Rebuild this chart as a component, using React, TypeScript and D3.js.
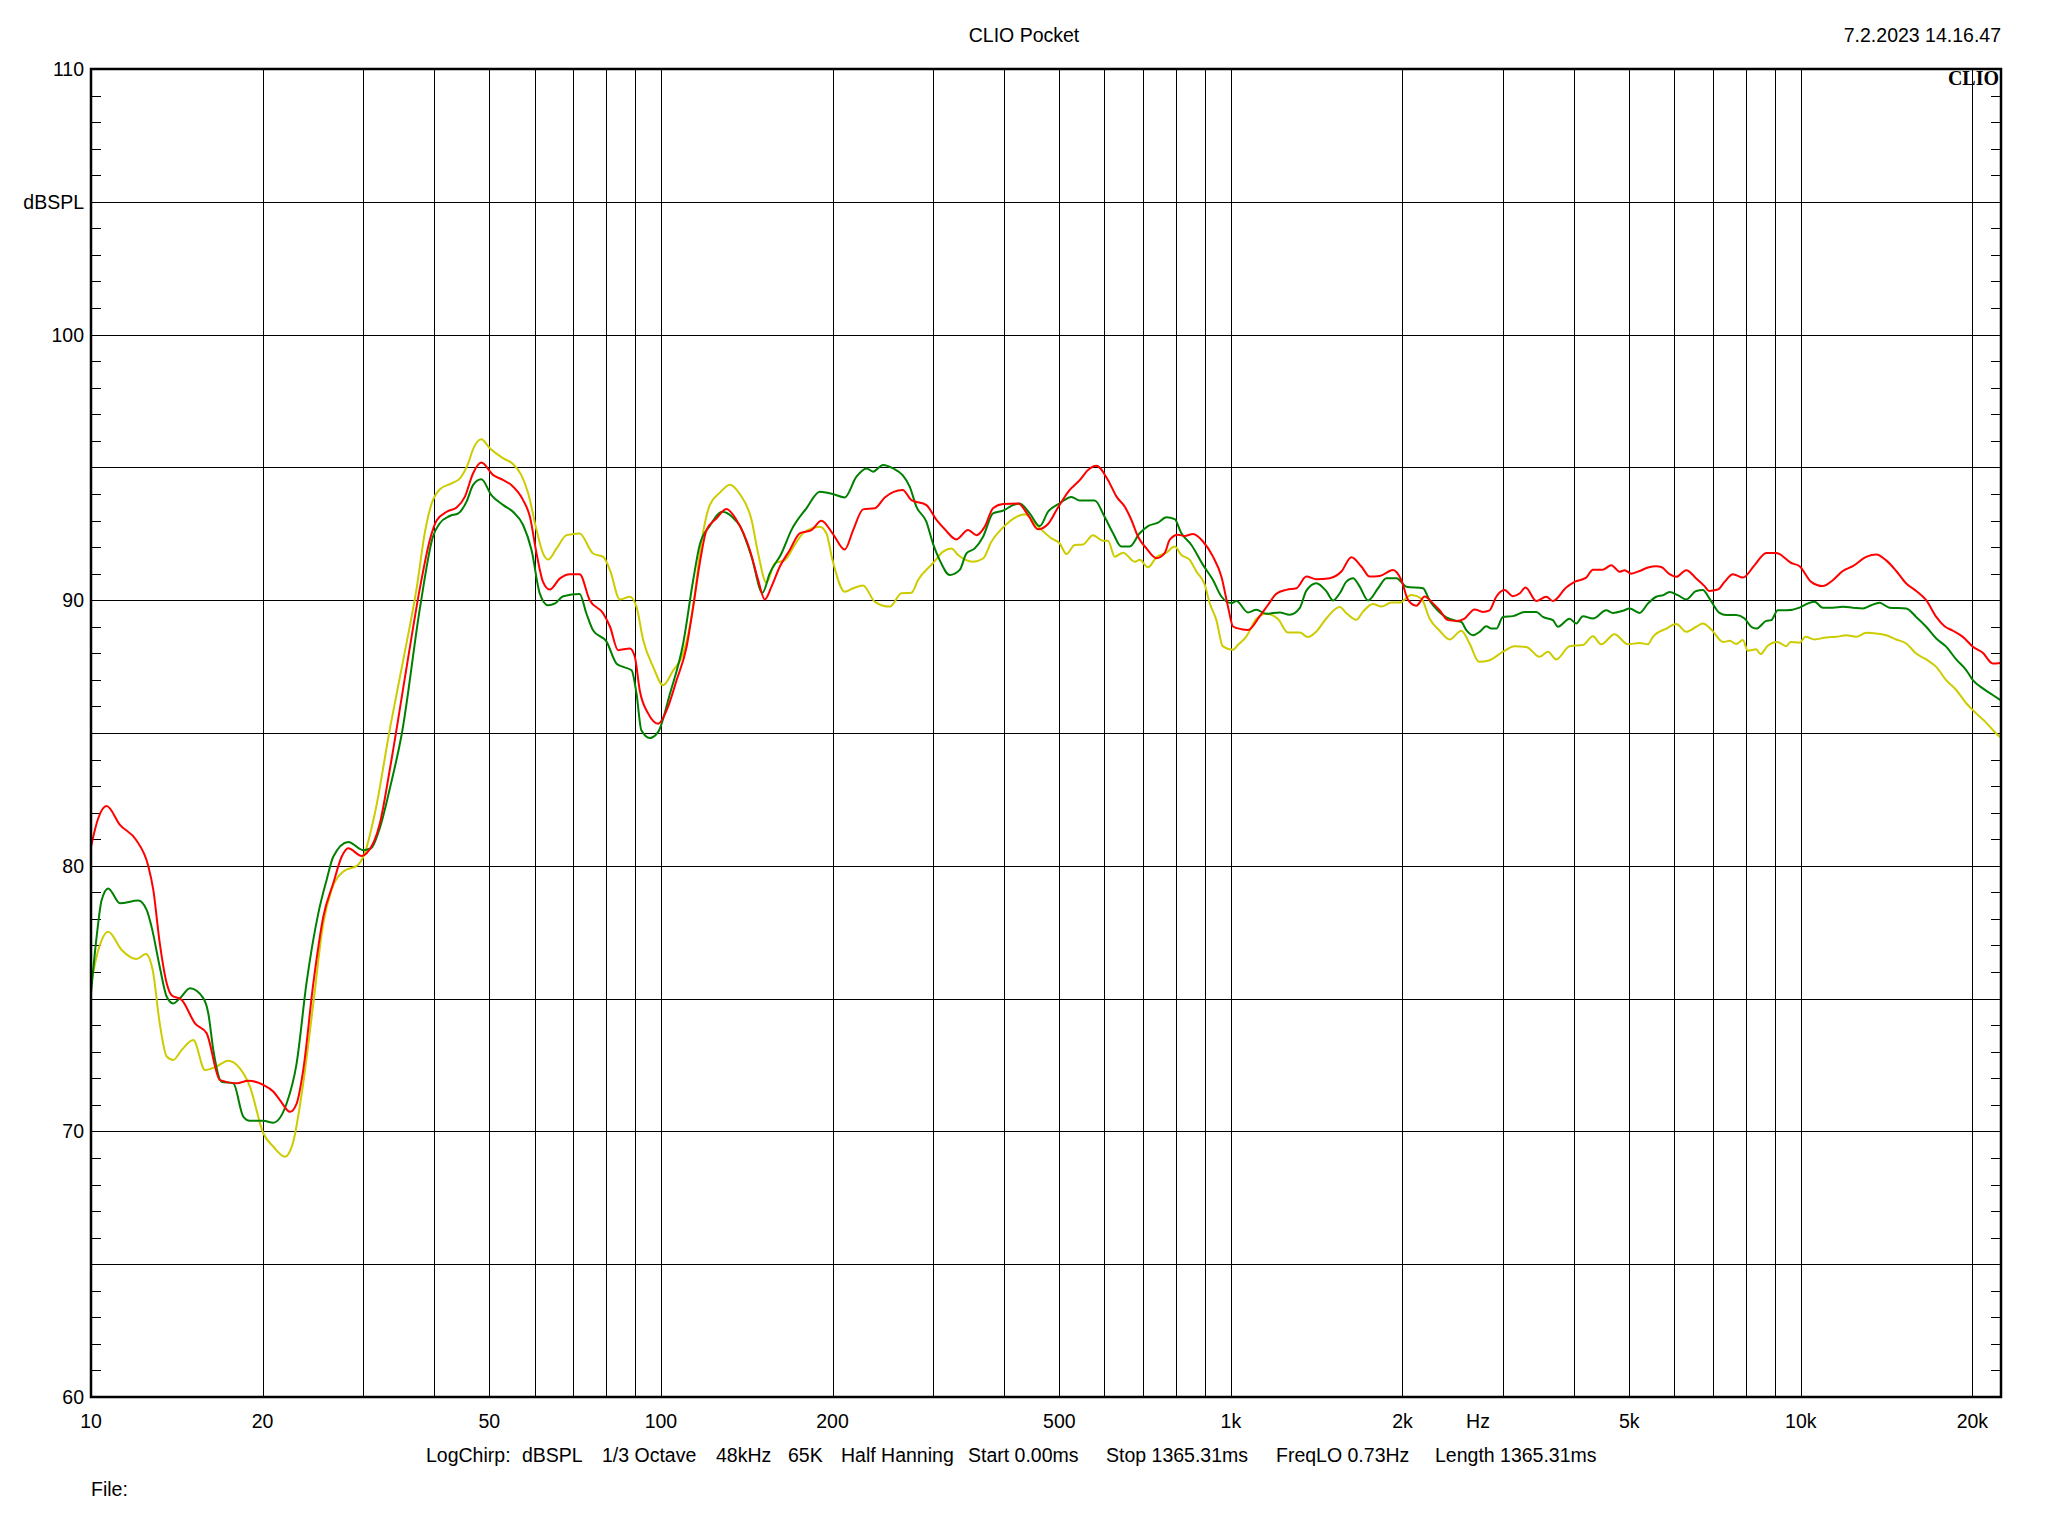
import React from "react";
import * as d3 from "d3";

// ---------- data (frequency Hz, level dBSPL) ----------
const redCurve: [number, number][] = [
  [10, 80.72], [10.3, 81.8], [10.65, 82.25], [11.24, 81.54], [12.0, 80.97], [12.6, 80.0], [12.86, 79.1],
  [13.2, 77.1], [13.58, 75.57], [13.85, 75.13], [14.43, 74.95], [15.22, 74.07], [15.95, 73.7], [16.84, 71.93],
  [18.01, 71.81], [18.88, 71.91], [20.06, 71.75], [20.88, 71.5], [21.45, 71.18], [22.34, 70.74], [22.95, 71.05],
  [23.57, 72.31], [24.55, 75.57], [25.56, 78.08], [26.61, 79.34], [27.53, 80.34], [28.27, 80.66], [29.85, 80.37],
  [30.45, 80.47], [32.13, 81.6], [33.5, 83.72], [35.8, 87.49], [37.8, 90.5], [39.3, 92.26], [40.4, 93.0],
  [42.1, 93.33], [43.8, 93.49], [45.3, 93.9], [46.8, 94.77], [48.4, 95.18], [50.8, 94.71], [52.9, 94.52],
  [54.7, 94.33], [57.3, 93.77], [58.9, 93.14], [60.5, 91.76], [62.1, 90.69], [63.8, 90.4], [66.5, 90.82],
  [69.2, 90.98], [72.0, 90.98], [75.0, 90.0], [79.2, 89.5], [81.4, 89.0], [84.1, 88.12], [88.2, 88.18],
  [90.0, 87.86], [91.8, 86.6], [95.0, 85.73], [98.9, 85.35], [102.3, 85.85], [106.5, 86.98], [110.9, 88.24],
  [113.9, 89.75], [117.0, 91.4], [120.2, 92.64], [125.2, 93.08], [130.3, 93.43], [135.7, 93.02], [143.2, 91.89],
  [148.1, 90.76], [152.1, 90.03], [156.3, 90.51], [161.6, 91.26], [168.3, 91.89], [175.2, 92.52], [183.7, 92.64],
  [191.2, 92.99], [200, 92.52], [210.1, 91.91], [217.4, 92.64], [226.3, 93.42], [237.3, 93.46], [247.0, 93.87],
  [265.5, 94.15], [275.1, 93.77], [292.3, 93.58], [304.4, 93.02], [314.8, 92.67], [330.0, 92.29], [345.8, 92.64],
  [357.7, 92.45], [370.0, 92.77], [382.5, 93.46], [398.4, 93.62], [423.2, 93.64], [440.7, 93.21], [458.8, 92.67],
  [477.7, 92.87], [497.4, 93.49], [521.5, 94.15], [543.0, 94.52], [561.6, 94.9], [580.8, 95.06], [608.8, 94.52],
  [630.0, 93.9], [651.4, 93.52], [669.1, 93.02], [687.2, 92.39], [710.9, 91.95], [740.2, 91.58], [765.3, 91.77],
  [780.9, 92.27], [807.6, 92.46], [829.6, 92.42], [858.0, 92.49], [893.4, 92.21], [930.2, 91.64], [962.3, 90.89],
  [988.3, 89.76], [1008.6, 89.01], [1043.3, 88.91], [1071.6, 88.88], [1123.1, 89.39], [1161.5, 89.82],
  [1201.7, 90.24], [1251.4, 90.39], [1302.9, 90.45], [1356.7, 90.89], [1412.5, 90.79], [1490.9, 90.83],
  [1562.5, 91.08], [1627.1, 91.62], [1694.1, 91.27], [1752.0, 90.89], [1824.1, 90.91], [1924.5, 91.14],
  [1990.7, 90.76], [2045.6, 90.01], [2115.7, 89.79], [2188.0, 90.14], [2262.5, 89.88], [2324.3, 89.62],
  [2403.4, 89.25], [2486.0, 89.22], [2570.4, 89.31], [2676.6, 89.65], [2768.1, 89.56], [2843.7, 89.62],
  [2921.7, 90.13], [3021.4, 90.38], [3124.6, 90.15], [3210.0, 90.25], [3288.6, 90.48], [3434.0, 89.97],
  [3576.0, 90.13], [3673.0, 89.97], [3876.0, 90.48], [4009.0, 90.69], [4202, 90.85], [4317, 91.15], [4495, 91.15],
  [4650, 91.32], [4809, 91.07], [4906, 91.13], [5040, 91.0], [5212, 91.1], [5391, 91.23], [5576, 91.28],
  [5690, 91.25], [5885, 90.98], [6046, 90.88], [6295, 91.13], [6554, 90.82], [6777, 90.53], [6900, 90.35],
  [7150, 90.4], [7348, 90.69], [7599, 90.98], [7913, 90.85], [8296, 91.32], [8697, 91.78], [9055, 91.78],
  [9620, 91.4], [9948, 91.28], [10427, 90.69], [10929, 90.53], [11378, 90.75], [11848, 91.1], [12335, 91.28],
  [13024, 91.63], [13562, 91.72], [14119, 91.5], [14703, 91.1], [15306, 90.63], [15937, 90.35], [16596, 90.0],
  [17281, 89.37], [17872, 89.02], [18479, 88.85], [19242, 88.62], [20038, 88.25], [20857, 88.02], [21712, 87.62],
  [22400, 87.64],
];

const greenCurve: [number, number][] = [
  [10, 75.2], [10.23, 77.33], [10.44, 78.71], [10.72, 79.15], [11.24, 78.59], [12.1, 78.69], [12.52, 78.34],
  [12.77, 77.71], [13.2, 76.2], [13.58, 75.07], [13.94, 74.82], [14.32, 75.01], [14.92, 75.39], [15.75, 75.01],
  [16.06, 74.45], [16.39, 73.07], [16.95, 71.87], [17.77, 71.81], [18.5, 70.56], [19.0, 70.4], [20.06, 70.4],
  [20.88, 70.33], [22.04, 71.05], [22.95, 72.56], [23.88, 75.57], [25.05, 78.21], [25.9, 79.46], [26.61, 80.34],
  [28.27, 80.9], [30.05, 80.59], [31.0, 80.66], [32.1, 81.41], [33.5, 82.98], [35.1, 84.97], [37.8, 89.75],
  [39.8, 92.39], [40.9, 92.89], [42.6, 93.17], [44.1, 93.27], [45.6, 93.71], [46.8, 94.33], [48.4, 94.55],
  [50.4, 93.96], [52.9, 93.58], [55.0, 93.33], [57.3, 92.83], [59.3, 91.88], [61.3, 90.25], [63.4, 89.81],
  [65.1, 89.87], [67.4, 90.15], [72.0, 90.23], [74.0, 89.5], [76.0, 88.87], [80.3, 88.43], [83.6, 87.61],
  [85.9, 87.49], [88.8, 87.36], [90.6, 86.48], [92.4, 85.1], [95.6, 84.81], [98.9, 85.04], [103.7, 86.48],
  [109.4, 88.37], [113.9, 90.75], [117, 92.1], [121.8, 92.8], [128.2, 93.33], [133.9, 93.1], [137.5, 92.8],
  [144.2, 91.64], [150.7, 90.28], [155.2, 91.01], [162.7, 91.76], [169.4, 92.64], [180.0, 93.46], [190.0, 94.08],
  [200, 94.0], [210.1, 93.87], [220.3, 94.65], [229.5, 94.96], [235.6, 94.84], [245.3, 95.09], [255.5, 94.96],
  [265.5, 94.71], [273.3, 94.27], [280.7, 93.52], [292.3, 92.95], [300, 92.14], [308.4, 91.51], [321.2, 90.95],
  [334.4, 91.14], [343.6, 91.76], [355.3, 91.95], [367.5, 92.39], [382.5, 93.27], [398.4, 93.37], [414.7, 93.58],
  [426.1, 93.64], [443.6, 93.27], [461.9, 92.79], [477.7, 93.33], [500.9, 93.65], [525.1, 93.89], [543.0, 93.75],
  [576.8, 93.75], [600.0, 93.15], [621.3, 92.52], [642.4, 92.02], [664.4, 92.02], [691.8, 92.52], [715.5, 92.79],
  [745.1, 92.92], [770.5, 93.12], [796.8, 93.05], [818.8, 92.52], [852.6, 92.08], [893.4, 91.33], [930.2, 90.76],
  [962.3, 90.14], [1001.8, 89.89], [1022.4, 89.97], [1071.6, 89.54], [1108.0, 89.64], [1154.0, 89.49],
  [1217.9, 89.54], [1268.0, 89.45], [1320.4, 89.7], [1356.7, 90.36], [1412.5, 90.64], [1471.3, 90.33],
  [1511.3, 89.99], [1552.5, 90.26], [1594.9, 90.7], [1638.4, 90.83], [1682.7, 90.51], [1740.3, 89.99],
  [1812.6, 90.45], [1874.6, 90.83], [1951.9, 90.83], [2032.1, 90.51], [2173.1, 90.45], [2232.5, 89.98],
  [2309, 89.6], [2388, 89.35], [2486, 89.22], [2537, 89.18], [2589, 88.87], [2659, 88.68], [2731, 88.81],
  [2806, 89.02], [2864, 88.93], [2922, 88.93], [3001, 89.37], [3125, 89.4], [3276, 89.56], [3434, 89.56],
  [3527, 89.37], [3673, 89.25], [3748, 89.0], [3929, 89.3], [4036, 89.12], [4146, 89.4], [4317, 89.31],
  [4556, 89.62], [4680, 89.52], [4874, 89.6], [5006, 89.69], [5212, 89.52], [5391, 89.87], [5576, 90.13],
  [5738, 90.19], [5885, 90.31], [6085, 90.19], [6295, 90.03], [6554, 90.35], [6731, 90.38], [6915, 90.06],
  [7200, 89.52], [7397, 89.44], [7702, 89.44], [7966, 89.31], [8184, 89.0], [8351, 88.93], [8697, 89.22],
  [8874, 89.25], [9114, 89.62], [9428, 89.62], [9948, 89.72], [10221, 89.85], [10570, 89.94], [10929, 89.72],
  [11378, 89.72], [11848, 89.75], [12335, 89.72], [12849, 89.69], [13288, 89.81], [13744, 89.9], [14306, 89.72],
  [15306, 89.69], [15937, 89.37], [16596, 89.0], [17281, 88.56], [17988, 88.25], [18734, 87.77], [19505, 87.37],
  [20038, 86.99], [20857, 86.68], [21712, 86.43], [22400, 86.24],
];

const yellowCurve: [number, number][] = [
  [10, 75.57], [10.3, 76.83], [10.72, 77.52], [11.32, 76.83], [12.02, 76.49], [12.48, 76.68], [12.83, 76.08],
  [13.2, 74.07], [13.58, 72.82], [13.94, 72.69], [14.43, 73.07], [15.12, 73.44], [15.85, 72.31], [16.6, 72.44],
  [17.4, 72.66], [18.25, 72.37], [19.0, 71.69], [20.06, 69.93], [20.88, 69.43], [21.9, 69.05], [22.6, 69.55],
  [23.57, 71.81], [24.55, 74.82], [25.56, 77.83], [26.43, 79.09], [27.7, 79.78], [29.4, 80.03], [30.05, 80.34],
  [31.5, 82.0], [33.5, 85.23], [35.3, 87.74], [37.3, 90.5], [38.5, 92.51], [39.6, 93.64], [40.9, 94.17],
  [42.9, 94.4], [44.4, 94.59], [45.9, 95.15], [46.8, 95.68], [48.4, 96.06], [50.1, 95.72], [52.9, 95.34],
  [55.0, 95.13], [56.9, 94.71], [58.5, 94.02], [60.5, 92.64], [62.1, 91.76], [63.4, 91.53], [65.6, 91.95],
  [68.3, 92.45], [72.0, 92.51], [76.0, 91.76], [79.2, 91.63], [81.4, 91.13], [84.7, 90.03], [88.2, 90.13],
  [90.6, 89.75], [93.1, 88.49], [96.9, 87.49], [100.9, 86.8], [105.1, 87.36], [109.4, 87.99], [113.9, 89.75],
  [117.8, 92.2], [121.8, 93.58], [126.9, 94.05], [132.1, 94.35], [137.5, 94.0], [144.2, 93.02], [148.1, 91.76],
  [153.1, 90.66], [158.4, 91.39], [164.9, 91.51], [171.7, 92.08], [177.6, 92.52], [190.0, 92.77], [195.1, 92.52],
  [200, 91.51], [210.1, 90.32], [217.4, 90.45], [226.3, 90.55], [237.3, 89.94], [252.1, 89.76], [264.2, 90.26],
  [275.1, 90.28], [282.6, 90.76], [300, 91.39], [312.7, 91.83], [323.4, 91.95], [332.2, 91.7], [352.9, 91.45],
  [367.5, 91.57], [380.0, 92.2], [398.4, 92.74], [420.5, 93.14], [434.8, 93.24], [455.8, 92.83], [484.3, 92.33],
  [500.9, 92.14], [514.5, 91.74], [532.1, 92.08], [550.3, 92.1], [572.8, 92.45], [596.8, 92.24], [608.8, 92.24],
  [625.6, 91.64], [646.9, 91.79], [678.1, 91.45], [691.8, 91.52], [715.5, 91.24], [740.2, 91.62], [770.5, 91.79],
  [796.8, 92.02], [818.8, 91.7], [846.8, 91.52], [869.8, 91.08], [900, 90.58], [917.9, 89.89], [942.8, 89.26],
  [968.2, 88.26], [1008.6, 88.13], [1029.0, 88.32], [1064.1, 88.63], [1108.0, 89.29], [1154.0, 89.49],
  [1209.7, 89.29], [1259.7, 88.78], [1320.4, 88.78], [1365.4, 88.61], [1412.5, 88.82], [1471.3, 89.32],
  [1552.5, 89.74], [1594.9, 89.51], [1659.6, 89.26], [1705.2, 89.57], [1775.1, 89.86], [1836.3, 89.76],
  [1912.3, 89.91], [1978.0, 89.91], [2072.9, 90.2], [2158.3, 90.07], [2232.5, 89.3], [2324.3, 88.85],
  [2420.0, 88.52], [2537, 88.85], [2623, 88.37], [2724, 87.68], [2844, 87.74], [3001, 88.06], [3146, 88.27],
  [3299, 88.24], [3481, 87.87], [3600, 88.06], [3724, 87.77], [3929, 88.27], [4146, 88.31], [4317, 88.64],
  [4465, 88.34], [4711, 88.72], [4972, 88.34], [5212, 88.39], [5391, 88.34], [5501, 88.62], [5805, 88.93],
  [6046, 89.1], [6295, 88.81], [6554, 89.0], [6731, 89.12], [6963, 88.9], [7306, 88.43], [7504, 88.47],
  [7702, 88.35], [7913, 88.5], [8073, 88.1], [8351, 88.15], [8499, 87.97], [8730, 88.27], [9090, 88.43],
  [9428, 88.27], [9592, 88.43], [9948, 88.4], [10193, 88.62], [10570, 88.52], [11082, 88.6], [11536, 88.62],
  [12013, 88.68], [12508, 88.62], [13024, 88.77], [13562, 88.75], [14119, 88.68], [14703, 88.52], [15306, 88.37],
  [15937, 87.99], [16596, 87.77], [17281, 87.49], [17988, 86.99], [18734, 86.62], [19505, 86.12], [20312, 85.74],
  [21140, 85.39], [21862, 85.05], [22400, 84.84],
];

const xTickValues = [10, 20, 50, 100, 200, 500, 1000, 2000, 5000, 10000, 20000];
const xTickLabels = ["10", "20", "50", "100", "200", "500", "1k", "2k", "5k", "10k", "20k"];
const yLabelValues = [110, 105, 100, 90, 80, 70, 60];
const yLabelTexts = ["110", "dBSPL", "100", "90", "80", "70", "60"];
const infoItems = [
  "LogChirp:", "dBSPL", "1/3 Octave", "48kHz", "65K", "Half Hanning",
  "Start 0.00ms", "Stop 1365.31ms", "FreqLO 0.73Hz", "Length 1365.31ms",
];
const infoX = [426, 522, 602, 716, 788, 841, 968, 1106, 1276, 1435];

// ---------- layout ----------
const W = 2048;
const H = 1536;
const L = 91, R = 2001, T = 69, B = 1397;
const FONT = "'Liberation Sans', Arial, sans-serif";

export default function App() {
  const x = d3.scaleLog().domain([10, 22450]).range([L, R]);
  const y = d3.scaleLinear().domain([60, 110]).range([B, T]);

  const gridF: number[] = [];
  for (const dec of [10, 100, 1000, 10000]) {
    for (let m = 1; m <= 9; m++) {
      const f = dec * m;
      if (f > 10 && f < 22450) gridF.push(f);
    }
  }
  gridF.push(20000);
  const gridDb = d3.range(65, 110, 5);
  const minorDb = d3.range(61, 110).filter((v) => v % 5 !== 0);

  const line = d3
    .line<[number, number]>()
    .x((d) => x(d[0]))
    .y((d) => y(d[1]))
    .curve(d3.curveMonotoneX);

  const series = [
    { data: yellowCurve, color: "#cccc00" },
    { data: greenCurve, color: "#008000" },
    { data: redCurve, color: "#ff0000" },
  ];

  return (
    <svg
      width={W}
      height={H}
      style={{ position: "absolute", left: 0, top: 0, background: "#fff" }}
      fontFamily={FONT}
    >
      <rect x={0} y={0} width={W} height={H} fill="#fff" />
      <defs>
        <clipPath id="plot">
          <rect x={L} y={T} width={R - L} height={B - T} />
        </clipPath>
      </defs>

      {/* grid */}
      {gridF.map((f) => (
        <line key={"vx" + f} x1={Math.round(x(f)) + 0.5} x2={Math.round(x(f)) + 0.5} y1={T} y2={B} stroke="#000" strokeWidth={1} />
      ))}
      {gridDb.map((v) => (
        <line key={"hy" + v} x1={L} x2={R} y1={Math.round(y(v)) + 0.5} y2={Math.round(y(v)) + 0.5} stroke="#000" strokeWidth={1} />
      ))}
      {minorDb.map((v) => (
        <g key={"mt" + v}>
          <line x1={L} x2={L + 10} y1={Math.round(y(v)) + 0.5} y2={Math.round(y(v)) + 0.5} stroke="#000" strokeWidth={1} />
          <line x1={R - 10} x2={R} y1={Math.round(y(v)) + 0.5} y2={Math.round(y(v)) + 0.5} stroke="#000" strokeWidth={1} />
        </g>
      ))}

      {/* curves */}
      <g clipPath="url(#plot)">
        {series.map((s, i) => (
          <path key={i} d={line(s.data) || ""} fill="none" stroke={s.color} strokeWidth={2} strokeLinejoin="round" />
        ))}
      </g>

      {/* frame */}
      <rect x={L} y={T} width={R - L} height={B - T} fill="none" stroke="#000" strokeWidth={2.5} />

      {/* CLIO logo */}
      <text x={1999} y={85} textAnchor="end" fontFamily="'Liberation Serif', 'DejaVu Serif', serif" fontWeight="bold" fontSize={20}>
        CLIO
      </text>

      {/* y labels */}
      {yLabelValues.map((v, i) => (
        <text key={"yl" + v} x={84} y={y(v) + 7} textAnchor="end" fontSize={19.5} fill="#000">
          {yLabelTexts[i]}
        </text>
      ))}

      {/* x labels */}
      {xTickValues.map((f, i) => (
        <text key={"xl" + f} x={x(f)} y={1428} textAnchor="middle" fontSize={19.5} fill="#000">
          {xTickLabels[i]}
        </text>
      ))}
      <text x={1478} y={1428} textAnchor="middle" fontSize={19.5}>Hz</text>

      {/* titles */}
      <text x={1024} y={42} textAnchor="middle" fontSize={19.5}>CLIO Pocket</text>
      <text x={2001} y={42} textAnchor="end" fontSize={19.5}>7.2.2023 14.16.47</text>

      {/* info line */}
      {infoItems.map((s, i) => (
        <text key={"in" + i} x={infoX[i]} y={1462} fontSize={19.5}>{s}</text>
      ))}
      <text x={91} y={1496} fontSize={19.5}>File:</text>
    </svg>
  );
}
